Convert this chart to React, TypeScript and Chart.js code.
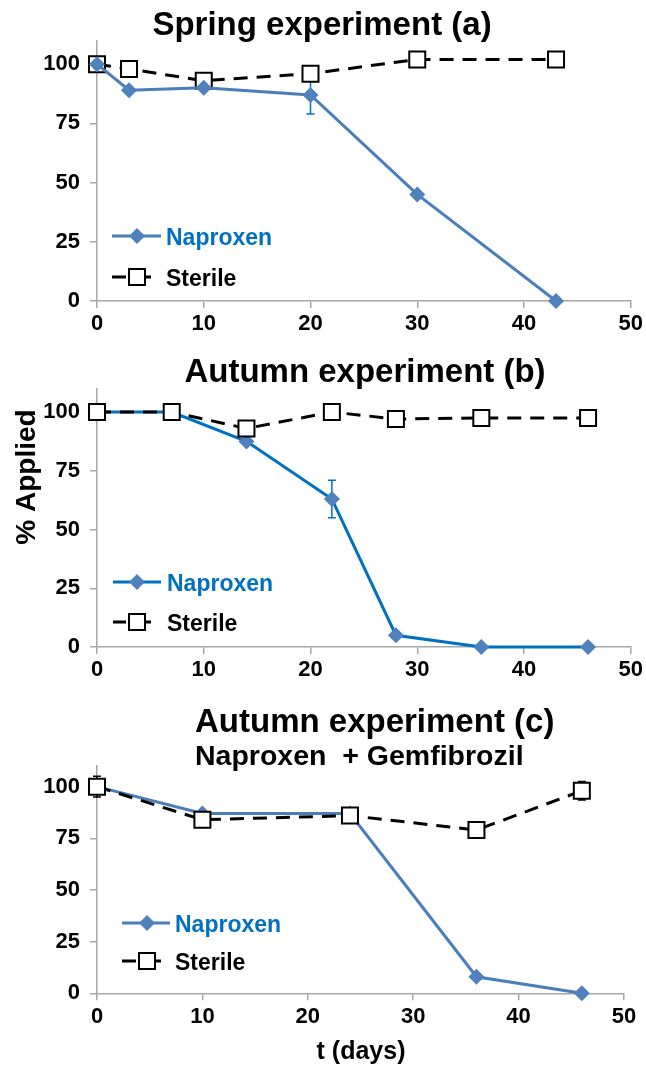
import React, { useEffect, useRef } from 'react';
import { Chart, registerables } from 'chart.js';

Chart.register(...registerables);

// ---------------- data ----------------
// Panel (a) Spring experiment
const daysA = [0, 3, 10, 20, 30, 43];
const naproxenA = [100, 89, 90, 87, 45, 0];
const naproxenErrA = [0, 0, 0, 8, 0, 0];
const sterileA = [100, 98, 93, 96, 102, 102];

// Panel (b) Autumn experiment
const daysB = [0, 7, 14, 22, 28, 36, 46];
const naproxenB = [100, 100, 87.5, 63, 5, 0, 0];
const naproxenErrB = [0, 0, 0, 8, 0, 0, 0];
const sterileB = [100, 100, 93, 100, 97, 97.5, 97.5];

// Panel (c) Autumn experiment, Naproxen + Gemfibrozil
const daysC = [0, 10, 24, 36, 46];
const naproxenC = [100, 87, 87, 8, 0];
const sterileC = [100, 84, 86, 79, 98];
const sterileErrC = [5, 3, 3, 3, 4.5];

const xTickValues = [0, 10, 20, 30, 40, 50];
const yTickValues = [0, 25, 50, 75, 100];
const xMin = 0;
const xMax = 50;
const yMin = 0;
const yMax = 110;

const seriesNames = ['Naproxen', 'Sterile'];
const titleA = 'Spring experiment (a)';
const titleB = 'Autumn experiment (b)';
const titleC = 'Autumn experiment (c)';
const subtitleC = 'Naproxen  + Gemfibrozil';
const yAxisTitle = '% Applied';
const xAxisTitle = 't (days)';

// ---------------- styles ----------------
const FONT = "'Liberation Sans', Arial, Helvetica, sans-serif";
const AXIS = '#a6a6a6';
const MARKER_BLUE = '#4f81bd';
const LINE_BLUE_SOFT = '#4a7ebb';
const LINE_BLUE_VIVID = '#0070c0';
const LEGEND_BLUE = '#0070c0';
const W = 646;
const X_AXIS_H = 40;
const DASH = [14, 9];
const DIAMOND_R = 8;
const SQUARE_HALF = 8;

type TextItem = {
  text: string;
  x: number;
  y: number;
  size: number;
  color?: string;
  align?: CanvasTextAlign;
  sx?: number;
  rotate?: boolean;
};

type PanelCfg = {
  top: number;
  height: number;
  areaTop: number;
  areaBottom: number;
  right: number;
  days: number[];
  naproxen: number[];
  naproxenErr?: number[];
  sterile: number[];
  sterileErr?: number[];
  lineBlue: string;
  naproxenOnTop: boolean;
  texts: TextItem[];
  legend: { x0: number; x1: number; mx: number; tx: number; y1: number; y2: number };
};

const panels: PanelCfg[] = [
  {
    top: 0,
    height: 345,
    areaTop: 40.5,
    areaBottom: 301,
    right: 631,
    days: daysA,
    naproxen: naproxenA,
    naproxenErr: naproxenErrA,
    sterile: sterileA,
    lineBlue: LINE_BLUE_SOFT,
    naproxenOnTop: true,
    texts: [{ text: titleA, x: 322, y: 35, size: 33, align: 'center' }],
    legend: { x0: 112, x1: 161, mx: 137, tx: 166, y1: 236, y2: 277 },
  },
  {
    top: 345,
    height: 345,
    areaTop: 43.5,
    areaBottom: 302,
    right: 631,
    days: daysB,
    naproxen: naproxenB,
    naproxenErr: naproxenErrB,
    sterile: sterileB,
    lineBlue: LINE_BLUE_VIVID,
    naproxenOnTop: false,
    texts: [
      { text: titleB, x: 365, y: 37, size: 33, align: 'center' },
      { text: yAxisTitle, x: 27, y: 132, size: 28, align: 'center', rotate: true },
    ],
    legend: { x0: 113, x1: 161, mx: 137, tx: 167, y1: 237, y2: 277 },
  },
  {
    top: 690,
    height: 376,
    areaTop: 76,
    areaBottom: 303.3,
    right: 624,
    days: daysC,
    naproxen: naproxenC,
    sterile: sterileC,
    sterileErr: sterileErrC,
    lineBlue: LINE_BLUE_SOFT,
    naproxenOnTop: false,
    texts: [
      { text: titleC, x: 195, y: 42, size: 33, align: 'left' },
      { text: subtitleC, x: 195, y: 75, size: 28.5, align: 'left' },
      { text: xAxisTitle, x: 361, y: 369, size: 25, align: 'center' },
    ],
    legend: { x0: 122, x1: 170, mx: 147, tx: 175, y1: 233, y2: 271 },
  },
];

function drawText(ctx: CanvasRenderingContext2D, t: TextItem) {
  ctx.save();
  ctx.font = `bold ${t.size}px ${FONT}`;
  ctx.fillStyle = t.color || '#000';
  ctx.textAlign = t.align || 'left';
  ctx.textBaseline = t.rotate ? 'middle' : 'alphabetic';
  ctx.translate(t.x, t.y);
  if (t.rotate) ctx.rotate(-Math.PI / 2);
  ctx.scale(t.sx || 1, 1);
  ctx.fillText(t.text, 0, 0);
  ctx.restore();
}

function drawDiamond(ctx: CanvasRenderingContext2D, x: number, y: number, r: number) {
  ctx.beginPath();
  ctx.moveTo(x - r, y);
  ctx.lineTo(x, y - r);
  ctx.lineTo(x + r, y);
  ctx.lineTo(x, y + r);
  ctx.closePath();
  ctx.fillStyle = MARKER_BLUE;
  ctx.fill();
}

function drawSquare(ctx: CanvasRenderingContext2D, x: number, y: number, half: number) {
  ctx.beginPath();
  ctx.rect(x - half, y - half, half * 2, half * 2);
  ctx.fillStyle = '#fff';
  ctx.fill();
  ctx.lineWidth = 2;
  ctx.strokeStyle = '#000';
  ctx.stroke();
}

const errorBarsPlugin = {
  id: 'errorBars',
  beforeDatasetsDraw(chart: any) {
    const ctx = chart.ctx as CanvasRenderingContext2D;
    const xs = chart.scales.x;
    const ys = chart.scales.y;
    chart.data.datasets.forEach((ds: any) => {
      if (!ds.errorBars) return;
      ctx.save();
      ctx.strokeStyle = ds.errorColor;
      ctx.lineWidth = 1.5;
      ds.data.forEach((p: any, i: number) => {
        const e = ds.errorBars[i];
        if (!e) return;
        const px = xs.getPixelForValue(p.x);
        const y0 = ys.getPixelForValue(p.y - e);
        const y1 = ys.getPixelForValue(p.y + e);
        ctx.beginPath();
        ctx.moveTo(px, y0);
        ctx.lineTo(px, y1);
        ctx.moveTo(px - 4, y0);
        ctx.lineTo(px + 4, y0);
        ctx.moveTo(px - 4, y1);
        ctx.lineTo(px + 4, y1);
        ctx.stroke();
      });
      ctx.restore();
    });
  },
};

const decorPlugin = {
  id: 'decor',
  afterDraw(chart: any) {
    const cfg: PanelCfg = chart.options.plugins.decor.cfg;
    const ctx = chart.ctx as CanvasRenderingContext2D;
    cfg.texts.forEach((t) => drawText(ctx, t));
    const L = cfg.legend;
    // Naproxen entry
    ctx.save();
    ctx.strokeStyle = cfg.lineBlue;
    ctx.lineWidth = 3;
    ctx.beginPath();
    ctx.moveTo(L.x0, L.y1);
    ctx.lineTo(L.x1, L.y1);
    ctx.stroke();
    drawDiamond(ctx, L.mx, L.y1, DIAMOND_R);
    drawText(ctx, { text: seriesNames[0], x: L.tx, y: L.y1 + 8.5, size: 23, color: LEGEND_BLUE });
    // Sterile entry
    ctx.strokeStyle = '#000';
    ctx.lineWidth = 3;
    ctx.beginPath();
    ctx.moveTo(L.x0, L.y2);
    ctx.lineTo(L.mx - 11, L.y2);
    ctx.moveTo(L.mx + 7, L.y2);
    ctx.lineTo(L.mx + 14, L.y2);
    ctx.stroke();
    drawSquare(ctx, L.mx, L.y2, SQUARE_HALF);
    drawText(ctx, { text: seriesNames[1], x: L.tx, y: L.y2 + 8.5, size: 23, color: '#000' });
    ctx.restore();
  },
};

function Panel({ cfg }: { cfg: PanelCfg }) {
  const ref = useRef<HTMLCanvasElement>(null);
  useEffect(() => {
    const canvas = ref.current;
    if (!canvas) return;
    const tickFont = { family: FONT, size: 22, weight: 'bold' as const };
    const napData = cfg.days.map((d, i) => ({ x: d, y: cfg.naproxen[i] }));
    const sterData = cfg.days.map((d, i) => ({ x: d, y: cfg.sterile[i] }));
    const chart = new Chart(canvas, {
      type: 'line',
      data: {
        datasets: [
          {
            label: seriesNames[0],
            data: napData,
            order: cfg.naproxenOnTop ? 0 : 1,
            borderColor: cfg.lineBlue,
            borderWidth: 3,
            pointStyle: 'rectRot',
            pointRadius: DIAMOND_R,
            pointBackgroundColor: MARKER_BLUE,
            pointBorderColor: MARKER_BLUE,
            pointBorderWidth: 0,
            tension: 0,
            clip: false,
            errorBars: cfg.naproxenErr,
            errorColor: LINE_BLUE_VIVID,
          } as any,
          {
            label: seriesNames[1],
            data: sterData,
            order: cfg.naproxenOnTop ? 1 : 0,
            borderColor: '#000',
            borderWidth: 3,
            borderDash: DASH,
            pointStyle: 'rect',
            pointRadius: SQUARE_HALF * Math.SQRT2,
            pointBackgroundColor: '#fff',
            pointBorderColor: '#000',
            pointBorderWidth: 2,
            tension: 0,
            clip: false,
            errorBars: cfg.sterileErr,
            errorColor: '#000',
          } as any,
        ],
      },
      options: {
        responsive: false,
        animation: false,
        devicePixelRatio: 1,
        events: [],
        layout: {
          padding: {
            top: cfg.areaTop,
            right: W - cfg.right,
            bottom: cfg.height - cfg.areaBottom - X_AXIS_H,
            left: 0,
          },
        },
        plugins: {
          legend: { display: false },
          title: { display: false },
          tooltip: { enabled: false },
          decor: { cfg },
        } as any,
        scales: {
          x: {
            type: 'linear',
            min: xMin,
            max: xMax,
            afterBuildTicks: (s: any) => {
              s.ticks = xTickValues.map((v) => ({ value: v }));
            },
            afterFit: (s: any) => {
              s.height = X_AXIS_H;
            },
            ticks: { font: tickFont, color: '#000', padding: 3, maxRotation: 0, autoSkip: false },
            grid: { drawOnChartArea: false, drawTicks: true, tickLength: 7, color: AXIS, lineWidth: 1.5 },
            border: { display: true, color: AXIS, width: 1.5 },
          },
          y: {
            type: 'linear',
            min: yMin,
            max: yMax,
            afterBuildTicks: (s: any) => {
              s.ticks = yTickValues.map((v) => ({ value: v }));
            },
            afterFit: (s: any) => {
              s.width = 97;
            },
            ticks: { font: tickFont, color: '#000', padding: 10, autoSkip: false },
            grid: { drawOnChartArea: false, drawTicks: true, tickLength: 7, color: AXIS, lineWidth: 1.5 },
            border: { display: true, color: AXIS, width: 1.5 },
          },
        },
      },
      plugins: [errorBarsPlugin, decorPlugin],
    });
    return () => chart.destroy();
  }, [cfg]);
  return (
    <canvas
      ref={ref}
      width={W}
      height={cfg.height}
      style={{ position: 'absolute', left: 0, top: cfg.top, width: W, height: cfg.height, display: 'block' }}
    />
  );
}

export default function App() {
  return (
    <div style={{ position: 'absolute', left: 0, top: 0, width: W, height: 1066, background: '#fff', overflow: 'hidden' }}>
      {panels.map((p, i) => (
        <Panel key={i} cfg={p} />
      ))}
    </div>
  );
}
